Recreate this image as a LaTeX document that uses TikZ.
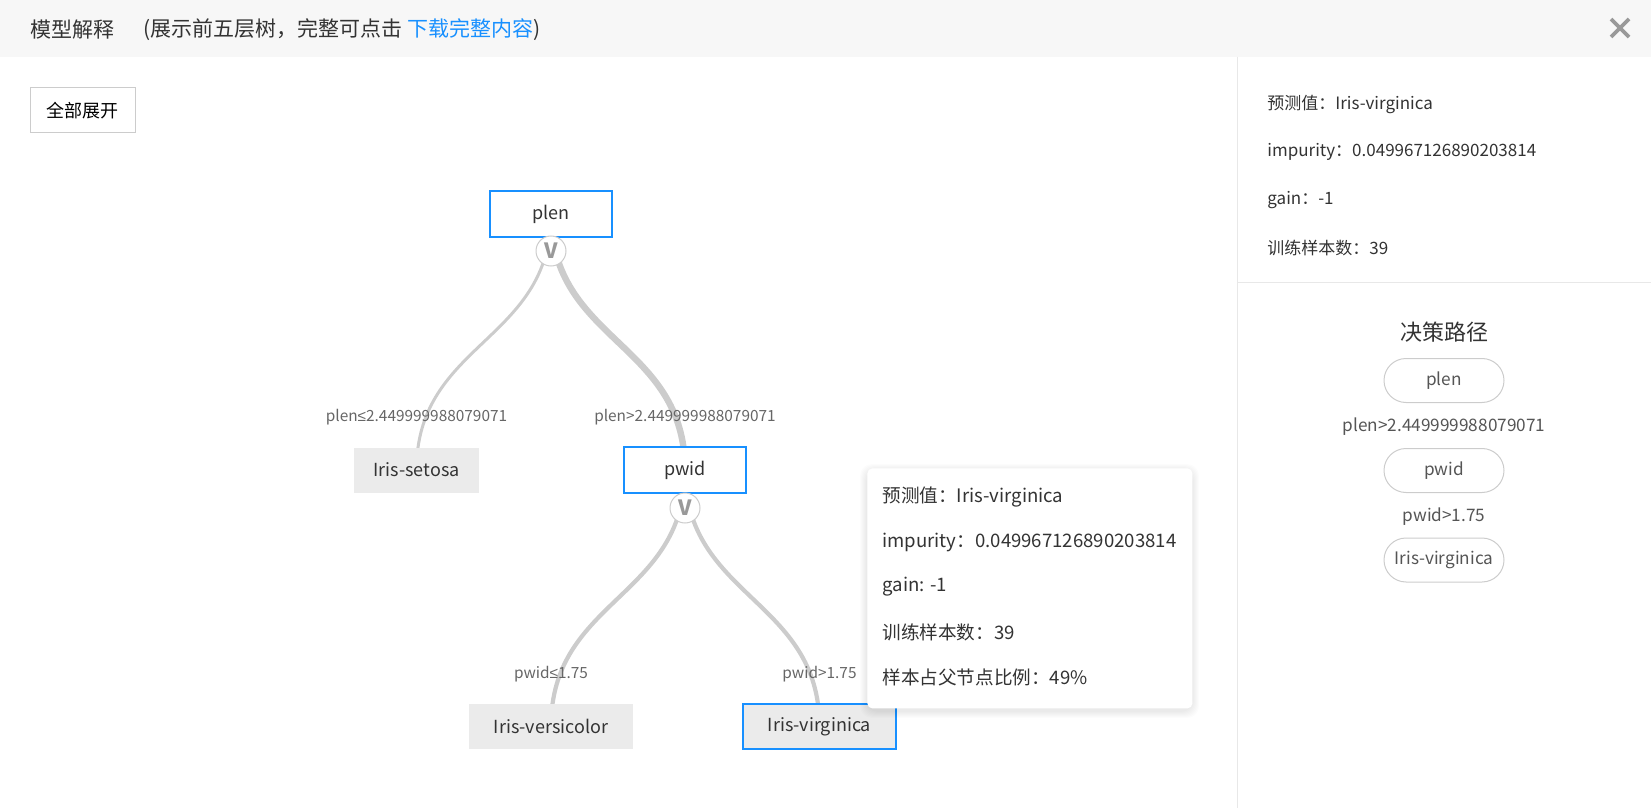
\documentclass[tikz,border=0pt]{standalone}
\usepackage{fontspec}
\setmainfont{Noto Sans CJK SC}
\newfontfamily\symfont{Liberation Sans}
\usetikzlibrary{backgrounds}
\definecolor{mdblue}{HTML}{1890FF}
\definecolor{mdtext}{HTML}{333333}
\definecolor{mdsoft}{HTML}{555555}
\definecolor{mdlabel}{HTML}{666666}
\definecolor{mdline}{HTML}{CCCCCC}
\definecolor{mdleaf}{HTML}{EBEBEB}
\definecolor{mdhead}{HTML}{F7F7F7}
\definecolor{mdrule}{HTML}{E8E8E8}
\definecolor{mdknob}{HTML}{999999}

\begin{document}
\begin{tikzpicture}[x=0.5pt,y=-0.5pt,
  treebox/.style={draw=mdblue,line width=0.75pt,fill=white,minimum width=61pt,
    minimum height=23pt,inner sep=0pt,text=mdtext,font=\fontsize{9}{11}\selectfont},
  leafbox/.style={fill=mdleaf,minimum height=22.5pt,inner sep=0pt,text=mdtext,
    font=\fontsize{9}{11}\selectfont},
  vknob/.style={circle,draw=mdline,line width=0.5pt,fill=white,minimum size=15pt,
    inner sep=0pt,text=mdknob,font=\fontsize{10.5}{10.5}\selectfont\bfseries},
  elabel/.style={text=mdlabel,font=\fontsize{7.7}{9}\selectfont},
  link/.style={draw=mdline},
  pill/.style={draw=mdline,line width=0.5pt,rounded corners=11pt,minimum width=60pt,
    minimum height=22pt,inner sep=0pt,text=mdsoft,font=\fontsize{8.6}{10}\selectfont},
  infotext/.style={anchor=west,inner sep=0pt,text=mdtext,font=\fontsize{8.5}{10}\selectfont},
  tiptext/.style={anchor=west,inner sep=0pt,text=mdtext,font=\fontsize{9.3}{11}\selectfont},
]

  \useasboundingbox (0,0) rectangle (1651,808);

  \def\mx{551}    % middle column
  \def\lx{416.5}  % setosa column
  \def\rx{685}    % pwid column
  \def\px{1444}   % decision path column

  % ---- header bar ----
  \fill[mdhead] (0,0) rectangle (1651,57);
  \node[anchor=west,inner sep=0pt,text=mdtext,font=\fontsize{10.5}{12}\selectfont]
        (title) at (30,30) {模型解释};
  \node[anchor=west,inner sep=0pt,text=mdtext,font=\fontsize{10.5}{12}\selectfont]
        (hint) at (143,30) {(展示前五层树，完整可点击 \textcolor{mdblue}{下载完整内容})};
  \draw[mdknob,line width=1.8pt] (1611,19) -- (1629,37) (1611,37) -- (1629,19);

  % ---- panel rules ----
  \draw[mdrule,line width=0.5pt] (1237.5,57) -- (1237.5,808);
  \draw[mdrule,line width=0.5pt] (1237.5,282) -- (1651,282);

  % ---- expand button ----
  \node[draw=mdline,line width=0.5pt,minimum width=52.5pt,minimum height=22.5pt,
        inner sep=0pt,text=black,font=\fontsize{9}{10}\selectfont]
        (expandall) at (82.5,110.5) {全部展开};

  % ---- tree nodes ----
  \node[treebox] (plen) at (\mx,214) {plen};
  \node[leafbox,minimum width=62.5pt] (setosa) at (\lx,470) {Iris-setosa};
  \node[treebox] (pwid) at (\rx,470) {pwid};
  \node[leafbox,minimum width=82pt] (versicolor) at (\mx,726.5) {Iris-versicolor};
  \node[leafbox,draw=mdblue,line width=0.75pt,minimum width=76.5pt]
        (virginica) at (819.5,726.5) {Iris-virginica};

  % ---- links (behind the boxes) ----
  \begin{scope}[on background layer]
    \draw[link,line width=1.5pt] (plen.center)
          .. controls +(0,128) and +(0,-128) .. (setosa.center);
    \draw[link,line width=3.2pt] (plen.center)
          .. controls +(0,128) and +(0,-128) .. (pwid.center);
    \draw[link,line width=2.1pt] (pwid.center)
          .. controls +(0,128) and +(0,-128) .. (versicolor.center);
    \draw[link,line width=2.1pt] (pwid.center)
          .. controls +(0,128) and +(0,-128) .. (virginica.center);
  \end{scope}

  % ---- split knobs ----
  \node[vknob] (vplen) at (\mx,251) {V};
  \node[vknob] (vpwid) at (\rx,508) {V};

  % ---- split labels ----
  \node[elabel] (lsetosa) at (\lx,417) {plen{\symfont ≤}2.449999988079071};
  \node[elabel] (lpwid) at (\rx,417) {plen>2.449999988079071};
  \node[elabel] (lversi) at (\mx,674) {pwid{\symfont ≤}1.75};
  \node[elabel] (lvirgi) at (819.5,674) {pwid>1.75};

  % ---- tooltip (soft shadow, then card) ----
  \foreach \d in {1,...,7}
    \fill[black,opacity=0.012,rounded corners=6pt]
          (867-\d,468-\d+3) rectangle (1192+\d,708+\d+3);
  \node[fill=white,rounded corners=2.5pt,minimum width=162.5pt,minimum height=120pt,
        inner sep=0pt,anchor=north west] (tip) at (867,468) {};
  \foreach \y/\txt in {497/{预测值：Iris-virginica},
                       542/{impurity：0.049967126890203814},
                       587/{gain: -1},
                       632/{训练样本数：39},
                       677/{样本占父节点比例：49\%}}
    \node[tiptext] (tip\y) at (882,\y) {\txt};

  % ---- node details (right panel) ----
  \foreach \y/\txt in {104/{预测值：Iris-virginica},
                       152/{impurity：0.049967126890203814},
                       200/{gain：-1},
                       248/{训练样本数：39}}
    \node[infotext] (info\y) at (1267,\y) {\txt};

  % ---- decision path ----
  \node[text=mdtext,font=\fontsize{11}{13}\selectfont] (pathtitle) at (\px,332) {决策路径};
  \node[pill] (pathplen) at (\px,380.5) {plen};
  \node[text=mdsoft,font=\fontsize{8.6}{10}\selectfont] (pathcut1) at (\px,427) {plen>2.449999988079071};
  \node[pill] (pathpwid) at (\px,470.5) {pwid};
  \node[text=mdsoft,font=\fontsize{8.6}{10}\selectfont] (pathcut2) at (\px,517) {pwid>1.75};
  \node[pill] (pathleaf) at (\px,560) {Iris-virginica};

\end{tikzpicture}
\end{document}
